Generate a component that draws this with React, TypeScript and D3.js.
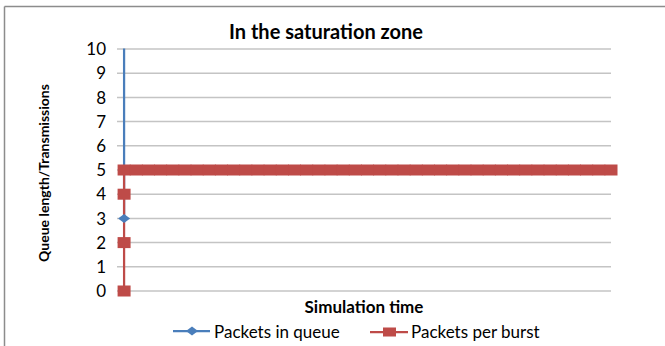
import React from "react";
import * as d3 from "d3";

// Simulation sample instants (several events can share one instant)
const burstTimes = [1, 1, 1, 1, 3, 5, 7, 9, 11, 13, 15, 17, 19, 21, 23, 25, 27, 29, 31, 33, 35, 37, 39, 41, 43, 45, 47, 49, 51, 53, 55, 57, 59, 61, 63, 65, 67, 69, 71, 73, 75, 77, 79, 81];
const packetsPerBurst = [0, 2, 4, 5, 5, 5, 5, 5, 5, 5, 5, 5, 5, 5, 5, 5, 5, 5, 5, 5, 5, 5, 5, 5, 5, 5, 5, 5, 5, 5, 5, 5, 5, 5, 5, 5, 5, 5, 5, 5, 5, 5, 5, 5];

// Queue grows past the axis maximum right away
const queueTimes = [1, 1, 3];
const packetsInQueue = [3, 12, 24];

const yTicks = [0, 1, 2, 3, 4, 5, 6, 7, 8, 9, 10];

const title = "In the saturation zone";
const xTitle = "Simulation time";
const yTitle = "Queue length/Transmissions";
const seriesNames = ["Packets in queue", "Packets per burst"];

const BLUE = "#4a7ebb";
const RED = "#be4b48";
const FONT = "Lato, 'Open Sans', sans-serif";

export default function App() {
  const W = 665;
  const H = 346;
  const plot = { left: 118, right: 611, top: 49, bottom: 291 };

  const x = d3.scaleLinear().domain([0, 81]).range([plot.left, plot.right]);
  const y = d3.scaleLinear().domain([0, 10]).range([plot.bottom, plot.top]);

  const redPts = burstTimes.map((t, i) => [t, packetsPerBurst[i]] as [number, number]);
  const bluePts = queueTimes.map((t, i) => [t, packetsInQueue[i]] as [number, number]);

  const line = d3
    .line<[number, number]>()
    .x((d) => x(d[0]))
    .y((d) => y(d[1]));

  const sq = { w: 13, h: 11 };
  const dia = { w: 12, h: 9 };
  const diamondPath = (cx: number, cy: number) =>
    `M${cx - dia.w / 2},${cy}L${cx},${cy - dia.h / 2}L${cx + dia.w / 2},${cy}L${cx},${cy + dia.h / 2}Z`;

  return (
    <svg
      width={W}
      height={H}
      style={{ position: "absolute", left: 0, top: 0, background: "#fff" }}
      fontFamily={FONT}
    >
      <defs>
        <clipPath id="plotClip">
          <rect x={0} y={plot.top - 0.5} width={W} height={H} />
        </clipPath>
      </defs>

      {/* chart frame (top and left edges) */}
      <line x1={4.5} y1={6.5} x2={W} y2={6.5} stroke="#8c8c8c" strokeWidth={1.5} />
      <line x1={4.5} y1={6.5} x2={4.5} y2={H} stroke="#8c8c8c" strokeWidth={1.5} />

      <text x={326} y={39} textAnchor="middle" fontSize={20} fontWeight="bold" fill="#000">
        {title}
      </text>

      {/* gridlines and tick labels */}
      {yTicks.map((t) => (
        <g key={t}>
          <line x1={plot.left - 1} x2={plot.right} y1={y(t)} y2={y(t)} stroke="#c4c4c4" strokeWidth={1.5} />
          <text x={106} y={y(t)} dy="0.36em" textAnchor="end" fontSize={17} fill="#000">
            {t}
          </text>
        </g>
      ))}

      <text
        transform={`translate(49,${173}) rotate(-90)`}
        textAnchor="middle"
        fontSize={14}
        fontWeight="bold"
        fill="#000"
      >
        {yTitle}
      </text>

      <text x={364} y={313} textAnchor="middle" fontSize={17} fontWeight="bold" fill="#000">
        {xTitle}
      </text>

      <g clipPath="url(#plotClip)">
        {/* Packets in queue */}
        <path d={line(bluePts) ?? ""} fill="none" stroke={BLUE} strokeWidth={2.25} />

        {/* Packets per burst */}
        <path d={line(redPts) ?? ""} fill="none" stroke={RED} strokeWidth={2.25} />
        {redPts.map((d, i) => (
          <rect
            key={i}
            x={x(d[0]) - sq.w / 2}
            y={y(d[1]) - sq.h / 2}
            width={sq.w}
            height={sq.h}
            fill={RED}
          />
        ))}
        {bluePts.map((d, i) => (
          <path key={i} d={diamondPath(x(d[0]), y(d[1]))} fill={BLUE} />
        ))}
      </g>

      {/* legend */}
      <g>
        <line x1={173} x2={210} y1={331} y2={331} stroke={BLUE} strokeWidth={2.25} />
        <path d={diamondPath(192, 331)} fill={BLUE} />
        <text x={214} y={332} dy="0.35em" fontSize={17} fill="#000">
          {seriesNames[0]}
        </text>
        <line x1={370} x2={408} y1={332} y2={332} stroke={RED} strokeWidth={2.25} />
        <rect x={383} y={327.5} width={13} height={9} fill={RED} />
        <text x={411} y={332} dy="0.35em" fontSize={17} fill="#000">
          {seriesNames[1]}
        </text>
      </g>
    </svg>
  );
}
